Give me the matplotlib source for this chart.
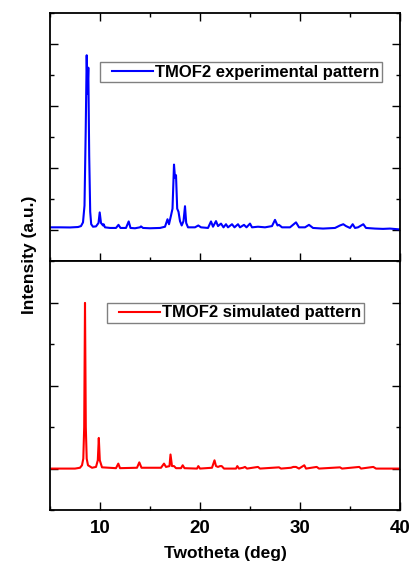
import matplotlib
matplotlib.use("Agg")
import matplotlib.pyplot as plt
from matplotlib.ticker import MultipleLocator, NullFormatter
from matplotlib.legend_handler import HandlerLine2D

plt.rcParams['font.family'] = ['Liberation Sans', 'DejaVu Sans']
plt.rcParams['font.weight'] = 'bold'

# ---- data ----
exp_twotheta = [5.0, 6.0, 7.0, 7.8, 8.1, 8.3, 8.45, 8.57, 8.67, 8.75, 8.83, 8.92, 9.02,
                9.12, 9.3, 9.6, 9.85, 9.97, 10.1, 10.3, 10.36, 10.5, 11.0, 11.6, 11.85,
                12.05, 12.6, 12.87, 13.05, 13.5, 14.0, 14.1, 14.3, 15.0, 16.0, 16.5,
                16.75, 16.9, 17.1, 17.25, 17.4, 17.5, 17.6, 17.72, 17.85, 18.0, 18.17,
                18.35, 18.5, 18.62, 18.8, 19.5, 19.83, 20.1, 20.8, 21.1, 21.3, 21.6,
                21.8, 22.1, 22.35, 22.6, 22.8, 23.2, 23.45, 23.8, 24.0, 24.4, 24.65,
                25.0, 25.2, 25.8, 26.5, 27.2, 27.5, 27.75, 27.9, 28.2, 29.0, 29.6, 29.9,
                30.5, 30.9, 31.3, 32.3, 33.5, 34.0, 34.33, 34.6, 35.0, 35.27, 35.5,
                35.8, 36.33, 36.6, 37.5, 38.3, 39.0, 40.0]
exp_intensity = [0.05, 0.05, 0.048, 0.055, 0.07, 0.13, 0.4, 1.6, 2.82, 2.2, 2.62, 1.2, 0.3,
                 0.1, 0.06, 0.065, 0.12, 0.29, 0.12, 0.08, 0.1, 0.05, 0.04, 0.04, 0.09,
                 0.04, 0.04, 0.145, 0.04, 0.035, 0.05, 0.065, 0.04, 0.035, 0.04, 0.06,
                 0.18, 0.1, 0.24, 0.35, 1.06, 0.85, 0.89, 0.35, 0.3, 0.15, 0.08,
                 0.15, 0.39, 0.12, 0.05, 0.05, 0.08, 0.05, 0.04, 0.145, 0.06, 0.15,
                 0.07, 0.11, 0.05, 0.1, 0.05, 0.1, 0.05, 0.1, 0.05, 0.09, 0.05,
                 0.11, 0.05, 0.06, 0.05, 0.07, 0.17, 0.08, 0.09, 0.05, 0.05, 0.13, 0.05,
                 0.05, 0.09, 0.04, 0.03, 0.04, 0.08, 0.1, 0.07, 0.04, 0.1, 0.04,
                 0.05, 0.1, 0.04, 0.03, 0.025, 0.03, 0.016]

sim_twotheta = [5.0, 7.5, 8.0, 8.2, 8.33, 8.42, 8.5, 8.58, 8.67, 8.8, 9.2, 9.6, 9.78, 9.88,
                9.98, 10.2, 11.6, 11.83, 12.0, 13.7, 13.93, 14.15, 16.1, 16.4, 16.6,
                16.95, 17.05, 17.2, 17.4, 17.6, 18.1, 18.27, 18.45, 19.7, 19.83, 20.0,
                21.2, 21.45, 21.6, 21.8, 22.0, 22.17, 22.4, 23.6, 23.73, 23.9, 24.3,
                24.5, 24.7, 25.8, 26.0, 27.9, 28.1, 29.1, 29.33, 29.6, 29.9, 30.43,
                30.6, 31.67, 31.9, 34.0, 34.2, 35.93, 36.1, 37.33, 37.6, 40.0]
sim_intensity = [0.0, 0.0, 0.01, 0.04, 0.12, 0.5, 2.0, 0.5, 0.12, 0.04, 0.01, 0.02, 0.1, 0.37,
                 0.1, 0.015, 0.005, 0.06, 0.005, 0.01, 0.075, 0.01, 0.01, 0.06, 0.02,
                 0.03, 0.17, 0.03, 0.03, 0.005, 0.005, 0.04, 0.005, 0.0, 0.03, 0.0,
                 0.01, 0.1, 0.03, 0.02, 0.03, 0.03, 0.0, 0.0, 0.03, 0.0, 0.01,
                 0.02, 0.0, 0.02, 0.0, 0.015, 0.0, 0.01, 0.02, 0.02, 0.0, 0.04,
                 0.0, 0.02, 0.0, 0.015, 0.0, 0.02, 0.0, 0.02, 0.0, 0.0]

exp_label = "TMOF2 experimental pattern"
sim_label = "TMOF2 simulated pattern"
x_ticks = [10, 20, 30, 40]

W, H = 413, 561
fig = plt.figure(figsize=(W / 100, H / 100), dpi=100)
left, width = 50 / W, 350 / W
ax1 = fig.add_axes([left, 1 - 261.5 / H, width, 248.5 / H])
ax2 = fig.add_axes([left, 1 - 510 / H, width, 248.5 / H])

ax1.plot(exp_twotheta, exp_intensity, color='#0000FF', lw=1.5, label=exp_label)
ax2.plot(sim_twotheta, sim_intensity, color='#FF0000', lw=1.5, label=sim_label)

ax1.set_ylim(-0.5, 3.5)
ax2.set_ylim(-0.5, 2.5)

for ax in (ax1, ax2):
    ax.set_xlim(5, 40)
    ax.set_xticks(x_ticks)
    ax.xaxis.set_minor_locator(MultipleLocator(5))
    ax.yaxis.set_major_locator(MultipleLocator(1))
    ax.yaxis.set_minor_locator(MultipleLocator(0.5))
    ax.yaxis.set_major_formatter(NullFormatter())
    for s in ax.spines.values():
        s.set_linewidth(1.3)
    ax.tick_params(which='major', direction='in', length=5.8, width=1.0)
    ax.tick_params(which='minor', direction='in', length=3.2, width=1.0)

ax1.tick_params(which='both', top=True, bottom=True, left=True, right=True,
                labelbottom=False)
ax2.tick_params(which='both', top=False, bottom=True, left=True, right=True)
ax2.tick_params(axis='x', labelsize=13.5, pad=7.5)
for lab in ax2.get_xticklabels():
    lab.set_fontweight('bold')

ax2.set_xlabel("Twotheta (deg)", fontsize=12.5, fontweight='bold', labelpad=6.5)
fig.text(29.5 / W, 1 - 255 / H, "Intensity (a.u.)", rotation=90, fontsize=12.5,
         fontweight='bold', ha='center', va='center')

hm = {matplotlib.lines.Line2D: HandlerLine2D(xpad=0.57)}
for ax, (bx, by) in ((ax1, (100, 62)), (ax2, (107, 303))):
    leg = ax.legend(loc='upper left', bbox_to_anchor=(bx / W, 1 - by / H),
                    bbox_transform=fig.transFigure, borderaxespad=0,
                    prop={'weight': 'bold', 'size': 12},
                    handlelength=3.0, handletextpad=0.15, borderpad=0.15,
                    fancybox=False, framealpha=1, edgecolor='#808080',
                    handler_map=hm)
    leg.get_frame().set_linewidth(1.0)

fig.savefig("out.png", dpi=100)
